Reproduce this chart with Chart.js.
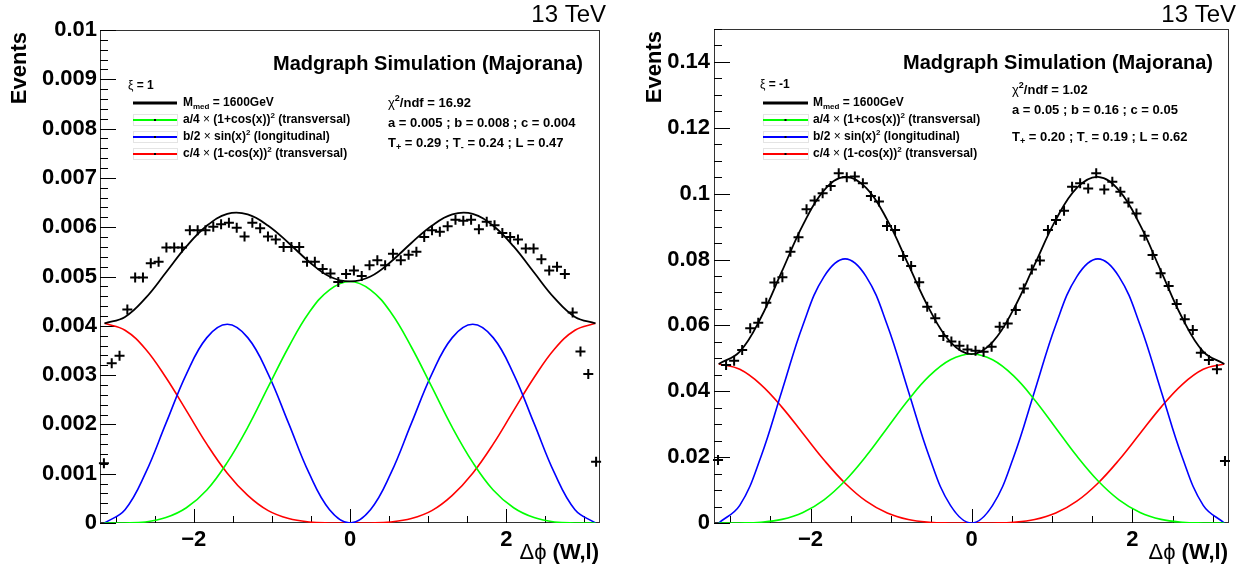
<!DOCTYPE html>
<html>
<head>
<meta charset="utf-8">
<script src="https://cdn.jsdelivr.net/npm/chart.js@4.4.0/dist/chart.umd.min.js"></script>
<style>
  html, body { margin: 0; padding: 0; background: #fff; }
  canvas { position: absolute; top: 0; }
  #c1 { left: 0; }
  #c2 { left: 620px; }
</style>
</head>
<body>
<canvas id="c1" width="620" height="566"></canvas>
<canvas id="c2" width="620" height="566"></canvas>
<script>
// ---- histogram bins (delta phi), 0.1 wide ----
const binCenters = [-3.15, -3.05, -2.95, -2.85, -2.75, -2.65, -2.55, -2.45, -2.35, -2.25, -2.15, -2.05,
  -1.95, -1.85, -1.75, -1.65, -1.55, -1.45, -1.35, -1.25, -1.15, -1.05, -0.95, -0.85, -0.75, -0.65,
  -0.55, -0.45, -0.35, -0.25, -0.15, -0.05, 0.05, 0.15, 0.25, 0.35, 0.45, 0.55, 0.65, 0.75, 0.85,
  0.95, 1.05, 1.15, 1.25, 1.35, 1.45, 1.55, 1.65, 1.75, 1.85, 1.95, 2.05, 2.15, 2.25, 2.35, 2.45,
  2.55, 2.65, 2.75, 2.85, 2.95, 3.05, 3.15];

// xi = 1
const eventsXiPlus = [0.00121, 0.00324, 0.00339, 0.00433, 0.00498, 0.00498, 0.00527, 0.00530, 0.00559,
  0.00559, 0.00559, 0.00594, 0.00594, 0.00594, 0.00601, 0.00606, 0.00609, 0.00599, 0.00581, 0.00609,
  0.00598, 0.00581, 0.00575, 0.00560, 0.00560, 0.00560, 0.00530, 0.00530, 0.00515, 0.00506, 0.00489,
  0.00505, 0.00512, 0.00501, 0.00523, 0.00533, 0.00523, 0.00546, 0.00533, 0.00544, 0.00550, 0.00580,
  0.00594, 0.00591, 0.00602, 0.00615, 0.00613, 0.00615, 0.00596, 0.00611, 0.00604, 0.00588, 0.00580,
  0.00575, 0.00557, 0.00557, 0.00535, 0.00512, 0.00520, 0.00505, 0.00427, 0.00348, 0.00302, 0.00124];

// xi = -1
const eventsXiMinus = [0.0191, 0.0480, 0.0493, 0.0525, 0.0591, 0.0608, 0.0669, 0.0730, 0.0746, 0.0824,
  0.0868, 0.0953, 0.0979, 0.1001, 0.1023, 0.1062, 0.1050, 0.1052, 0.1032, 0.0993, 0.0976, 0.0902,
  0.0890, 0.0811, 0.0780, 0.0731, 0.0657, 0.0622, 0.0568, 0.0551, 0.0538, 0.0527, 0.0523, 0.0520,
  0.0535, 0.0596, 0.0606, 0.0647, 0.0712, 0.0770, 0.0797, 0.0890, 0.0920, 0.0948, 0.1021, 0.1032,
  0.1016, 0.1062, 0.1013, 0.1036, 0.1006, 0.0973, 0.0940, 0.0872, 0.0814, 0.0758, 0.0720, 0.0665,
  0.0619, 0.0586, 0.0517, 0.0495, 0.0467, 0.0188];

// ---- fit curves, sampled every 15 degrees from -pi to pi ----
const fitX = [-3.1416, -2.8798, -2.6180, -2.3562, -2.0944, -1.8326, -1.5708, -1.3090, -1.0472, -0.7854,
  -0.5236, -0.2618, 0, 0.2618, 0.5236, 0.7854, 1.0472, 1.3090, 1.5708, 1.8326, 2.0944, 2.3562,
  2.6180, 2.8798, 3.1416];

const fitTotalPlus = [0.00405, 0.00418, 0.00456, 0.00508, 0.00561, 0.00603, 0.00627, 0.00626, 0.00603,
  0.00568, 0.00530, 0.00500, 0.00490, 0.00500, 0.00530, 0.00568, 0.00603, 0.00626, 0.00627, 0.00603,
  0.00561, 0.00508, 0.00456, 0.00418, 0.00405];
const fitAPlus = [0, 0, 0.00002, 0.00011, 0.00031, 0.00067, 0.00123, 0.00194, 0.00276, 0.00357, 0.00427,
  0.00473, 0.00490, 0.00473, 0.00427, 0.00357, 0.00276, 0.00194, 0.00123, 0.00067, 0.00031, 0.00011,
  0.00002, 0, 0];
const fitBPlus = [0, 0.00027, 0.00101, 0.00202, 0.00302, 0.00376, 0.00403, 0.00376, 0.00302, 0.00202,
  0.00101, 0.00027, 0, 0.00027, 0.00101, 0.00202, 0.00302, 0.00376, 0.00403, 0.00376, 0.00302, 0.00202,
  0.00101, 0.00027, 0];
const fitCPlus = [0.00405, 0.00391, 0.00353, 0.00295, 0.00228, 0.00160, 0.00101, 0.00056, 0.00025,
  0.00009, 0.00002, 0, 0, 0, 0.00002, 0.00009, 0.00025, 0.00056, 0.00101, 0.00160, 0.00228, 0.00295,
  0.00353, 0.00391, 0.00405];

const fitTotalMinus = [0.04830, 0.05205, 0.06232, 0.07639, 0.09053, 0.10101, 0.10511, 0.10178, 0.09203,
  0.07851, 0.06493, 0.05495, 0.05130, 0.05495, 0.06493, 0.07851, 0.09203, 0.10178, 0.10511, 0.10101,
  0.09053, 0.07639, 0.06232, 0.05205, 0.04830];
const fitAMinus = [0, 0.00001, 0.00023, 0.00110, 0.00321, 0.00705, 0.01283, 0.02032, 0.02886, 0.03737,
  0.04466, 0.04957, 0.05130, 0.04957, 0.04466, 0.03737, 0.02886, 0.02032, 0.01283, 0.00705, 0.00321,
  0.00110, 0.00023, 0.00001, 0];
const fitBMinus = [0, 0.00537, 0.02005, 0.04010, 0.06015, 0.07483, 0.08020, 0.07483, 0.06015, 0.04010,
  0.02005, 0.00537, 0, 0.00537, 0.02005, 0.04010, 0.06015, 0.07483, 0.08020, 0.07483, 0.06015, 0.04010,
  0.02005, 0.00537, 0];
const fitCMinus = [0.04830, 0.04667, 0.04204, 0.03519, 0.02717, 0.01913, 0.01208, 0.00663, 0.00302,
  0.00104, 0.00022, 0.00001, 0, 0.00001, 0.00022, 0.00104, 0.00302, 0.00663, 0.01208, 0.01913, 0.02717,
  0.03519, 0.04204, 0.04667, 0.04830];

// ---- ticks ----
const xTickValues = [-2, 0, 2];
const xTickLabels = ['\u22122', '0', '2'];
const yTickValuesPlus = [0, 0.001, 0.002, 0.003, 0.004, 0.005, 0.006, 0.007, 0.008, 0.009, 0.01];
const yTickLabelsPlus = ['0', '0.001', '0.002', '0.003', '0.004', '0.005', '0.006', '0.007', '0.008', '0.009', '0.01'];
const yTickValuesMinus = [0, 0.02, 0.04, 0.06, 0.08, 0.1, 0.12, 0.14];
const yTickLabelsMinus = ['0', '0.02', '0.04', '0.06', '0.08', '0.1', '0.12', '0.14'];

const FONT = '"Liberation Sans", Arial, sans-serif';
Chart.defaults.font.family = FONT;

// draws text made of pieces: [text, mode] with mode '', 'sub', 'sup', 'sym'
function richText(ctx, x, y, parts, size, align) {
    const fontFor = (mode) => {
        const fs = (mode === 'sub' || mode === 'sup') ? Math.round(size * 0.68) : size;
        const w = mode === 'sym' ? 'normal' : 'bold';
        return `${w} ${fs}px ${FONT}`;
    };
    let total = 0;
    parts.forEach(([t, m]) => { ctx.font = fontFor(m); total += ctx.measureText(t).width; });
    let cx = align === 'right' ? x - total : x;
    ctx.textAlign = 'left';
    ctx.textBaseline = 'middle';
    parts.forEach(([t, m]) => {
        ctx.font = fontFor(m);
        let dy = 0;
        if (m === 'sub') dy = size * 0.32;
        if (m === 'sup') dy = -size * 0.38;
        ctx.fillText(t, cx, y + dy);
        cx += ctx.measureText(t).width;
    });
}

function rootDecor(cfg) {
    return {
        id: 'rootDecor' + cfg.id,
        beforeDatasetsDraw(chart) {
            const ctx = chart.ctx;
            const a = chart.chartArea;
            const xs = chart.scales.x, ys = chart.scales.y;
            ctx.save();
            ctx.strokeStyle = '#333';
            ctx.lineWidth = 1;
            ctx.strokeRect(a.left + 0.5, a.top + 0.5, a.right - a.left - 1, a.bottom - a.top - 1);
            ctx.strokeStyle = '#000';
            // y ticks on the inside
            const nY = Math.round(cfg.ymax / cfg.yMinor);
            for (let i = 0; i <= nY; i++) {
                const v = i * cfg.yMinor;
                const major = i % cfg.yPerMajor === 0;
                const py = Math.round(ys.getPixelForValue(v)) + 0.5;
                ctx.beginPath();
                ctx.moveTo(a.left, py);
                ctx.lineTo(a.left + (major ? 16 : 8), py);
                ctx.stroke();
            }
            // x ticks on the inside
            for (let i = -6; i <= 6; i++) {
                const v = i * 0.5;
                const major = i % 4 === 0;
                const px = Math.round(xs.getPixelForValue(v)) + 0.5;
                ctx.beginPath();
                ctx.moveTo(px, a.bottom);
                ctx.lineTo(px, a.bottom - (major ? 14 : 7));
                ctx.stroke();
            }
            ctx.restore();
        },
        afterDraw(chart) {
            const ctx = chart.ctx;
            const a = chart.chartArea;
            ctx.save();
            ctx.fillStyle = '#000';

            // energy label
            ctx.font = `normal 24px ${FONT}`;
            ctx.textAlign = 'right';
            ctx.textBaseline = 'middle';
            ctx.fillText('13 TeV', cfg.tevX, 15);

            // y axis title
            ctx.save();
            ctx.translate(cfg.eventsX, a.top + 2);
            ctx.rotate(-Math.PI / 2);
            ctx.font = `bold 22px ${FONT}`;
            ctx.textAlign = 'right';
            ctx.fillText('Events', 0, 0);
            ctx.restore();

            // x axis title
            richText(ctx, cfg.xTitleX, 553, [['\u0394\u03d5', 'sym'], [' (W,l)', '']], 22, 'right');

            // header
            ctx.font = `bold 20px ${FONT}`;
            ctx.textAlign = 'right';
            ctx.textBaseline = 'middle';
            ctx.fillText('Madgraph Simulation (Majorana)', cfg.headX, cfg.headY);

            // legend
            richText(ctx, cfg.xiX, cfg.xiY, [['\u03be', 'sym'], [cfg.xiText, '']], 12);
            const rows = [
                { color: '#000', parts: [['M', ''], ['med', 'sub'], [' = 1600GeV', '']] },
                { color: '#00ff00', parts: [['a/4 ', ''], ['\u00d7', 'sym'], [' (1+cos(x))', ''], ['2', 'sup'], [' (transversal)', '']] },
                { color: '#0000ff', parts: [['b/2 ', ''], ['\u00d7', 'sym'], [' sin(x)', ''], ['2', 'sup'], [' (longitudinal)', '']] },
                { color: '#ff0000', parts: [['c/4 ', ''], ['\u00d7', 'sym'], [' (1-cos(x))', ''], ['2', 'sup'], [' (transversal)', '']] }
            ];
            rows.forEach((r, i) => {
                const y = cfg.legY[i];
                if (i > 0) {
                    ctx.strokeStyle = '#e4e4e4';
                    ctx.lineWidth = 1;
                    ctx.strokeRect(cfg.legX0 + 0.5, y - 5.5, cfg.legX1 - cfg.legX0, 11);
                }
                ctx.strokeStyle = r.color;
                ctx.lineWidth = i === 0 ? 3 : 2;
                ctx.beginPath();
                ctx.moveTo(cfg.legX0, y);
                ctx.lineTo(cfg.legX1, y);
                ctx.stroke();
                if (i > 0) {
                    ctx.fillStyle = '#000';
                    ctx.fillRect((cfg.legX0 + cfg.legX1) / 2 - 1, y - 1, 2, 2);
                }
                ctx.fillStyle = '#000';
                richText(ctx, cfg.legTextX, y, r.parts, 12);
            });

            // fit results
            richText(ctx, cfg.fitX, cfg.fitY[0], [['\u03c7', 'sym'], ['2', 'sup'], ['/ndf = ' + cfg.chi2, '']], 13);
            richText(ctx, cfg.fitX, cfg.fitY[1], [[cfg.abc, '']], 13);
            richText(ctx, cfg.fitX, cfg.fitY[2], [['T', ''], ['+', 'sub'], [' = ' + cfg.tPlus + ' ; T', ''],
                ['-', 'sub'], [' = ' + cfg.tMinus + ' ; L = ' + cfg.long, '']], 13);
            ctx.restore();
        }
    };
}

function pts(xs, ys) {
    return xs.map((x, i) => ({ x: x, y: ys[i] }));
}

function curve(ys, color, width) {
    return {
        data: pts(fitX, ys), showLine: true, borderColor: color, borderWidth: width,
        pointRadius: 0, tension: 0.4, fill: false
    };
}

function makePanel(canvasId, cfg) {
    new Chart(document.getElementById(canvasId), {
        type: 'scatter',
        data: {
            datasets: [
                { data: pts(binCenters, cfg.counts), pointStyle: 'cross', pointRadius: 5,
                  borderColor: '#000', borderWidth: 2, backgroundColor: '#000', clip: 10 },
                curve(cfg.total, '#000', 1.8),
                curve(cfg.fitA, '#00ff00', 1.6),
                curve(cfg.fitB, '#0000ff', 1.6),
                curve(cfg.fitC, '#ff0000', 1.6)
            ]
        },
        options: {
            responsive: false,
            animation: false,
            events: [],
            layout: { padding: { top: cfg.padTop, right: cfg.padRight, left: 0, bottom: 0 } },
            plugins: { legend: { display: false }, tooltip: { enabled: false } },
            scales: {
                x: {
                    type: 'linear', min: -3.2, max: 3.2,
                    grid: { display: false, drawTicks: false }, border: { display: false },
                    afterFit: s => { s.height = 43; },
                    afterBuildTicks: s => { s.ticks = xTickValues.map(v => ({ value: v })); },
                    ticks: {
                        autoSkip: false, maxRotation: 0, padding: 4, color: '#000',
                        font: { size: 22, weight: 'bold' },
                        callback: (v, i) => xTickLabels[i]
                    }
                },
                y: {
                    type: 'linear', min: 0, max: cfg.ymax,
                    grid: { display: false, drawTicks: false }, border: { display: false },
                    afterFit: s => { s.width = cfg.axisWidth; },
                    afterBuildTicks: s => { s.ticks = cfg.yTicks.map(v => ({ value: v })); },
                    ticks: {
                        autoSkip: false, padding: cfg.labelPad, color: '#000',
                        font: { size: 22, weight: 'bold' },
                        callback: (v, i) => cfg.yLabels[i]
                    }
                }
            }
        },
        plugins: [rootDecor(cfg)]
    });
}

makePanel('c1', {
    id: 1, counts: eventsXiPlus, total: fitTotalPlus, fitA: fitAPlus, fitB: fitBPlus, fitC: fitCPlus,
    ymax: 0.01, yMinor: 0.0002, yPerMajor: 5, yTicks: yTickValuesPlus, yLabels: yTickLabelsPlus,
    padTop: 30, padRight: 20, axisWidth: 100, labelPad: 3,
    tevX: 606, eventsX: 20, xTitleX: 599, headX: 583, headY: 64,
    xiX: 128, xiY: 86, xiText: ' = 1', legX0: 133, legX1: 177, legTextX: 183, legY: [103, 120, 137, 154],
    fitX: 388, fitY: [103, 123, 143], chi2: '16.92', abc: 'a = 0.005 ; b = 0.008 ; c = 0.004',
    tPlus: '0.29', tMinus: '0.24', long: '0.47'
});

makePanel('c2', {
    id: 2, counts: eventsXiMinus, total: fitTotalMinus, fitA: fitAMinus, fitB: fitBMinus, fitC: fitCMinus,
    ymax: 0.15, yMinor: 0.005, yPerMajor: 4, yTicks: yTickValuesMinus, yLabels: yTickLabelsMinus,
    padTop: 29, padRight: 11, axisWidth: 94, labelPad: 4,
    tevX: 616, eventsX: 35, xTitleX: 608, headX: 593, headY: 63,
    xiX: 140, xiY: 85, xiText: ' = -1', legX0: 143, legX1: 188, legTextX: 193, legY: [103, 120, 137, 154],
    fitX: 392, fitY: [90, 110, 137], chi2: '1.02', abc: 'a = 0.05 ; b = 0.16 ; c = 0.05',
    tPlus: '0.20', tMinus: '0.19', long: '0.62'
});
</script>
</body>
</html>
